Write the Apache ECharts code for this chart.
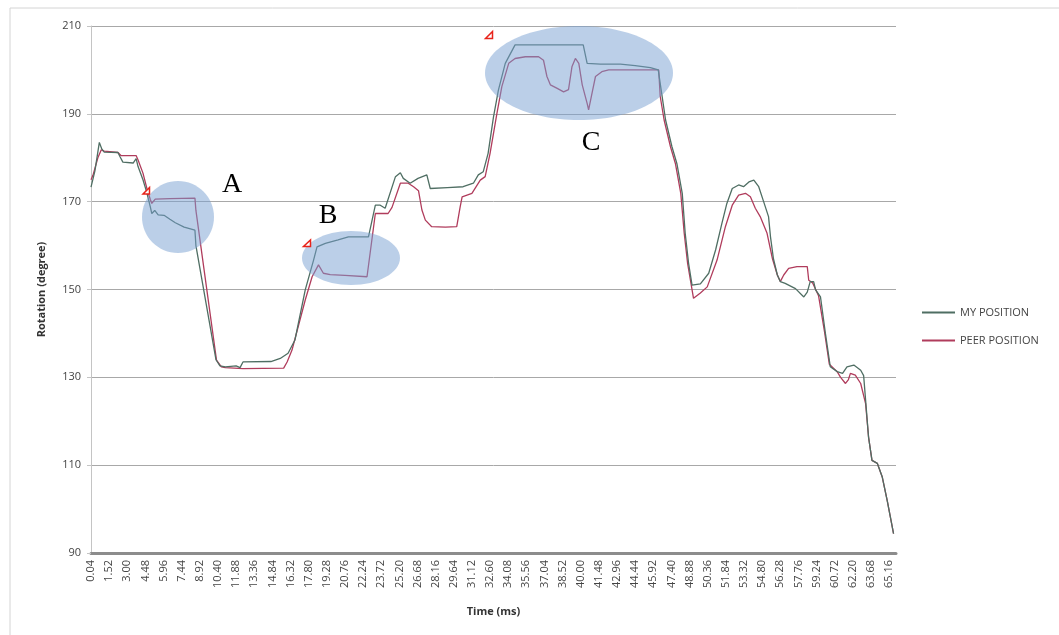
<!DOCTYPE html>
<html>
<head>
<meta charset="utf-8">
<script src="https://cdn.jsdelivr.net/npm/echarts@6/dist/echarts.min.js"></script>
<style>html,body{margin:0;padding:0;background:#fff}#c{width:1059px;height:635px}</style>
</head>
<body>
<div id="c"></div>
<script>
// time axis (ms): samples every 0.04 ms, labelled every 37th sample
const START = 0.04, STEP = 0.04, COUNT = 1643;
const categories = Array.from({length: COUNT}, (_, i) => (START + i * STEP).toFixed(2));

// [time ms, rotation degree]
const myPosition = [
[0.04,173.3],[0.37,177],[0.73,183.5],[0.94,182],[1.10,181.3],[2.24,181.2],[2.41,180.3],[2.65,179],
[3.47,178.8],[3.71,179.8],[3.88,178],[4.29,175],[4.61,172],[4.86,168.8],[4.98,167.3],[5.22,168],
[5.51,167],[6.00,166.9],[6.49,166],[6.90,165.2],[7.63,164.2],[8.51,163.5],[8.61,160],[10.24,134],
[10.57,132.6],[10.98,132.4],[11.88,132.6],[12.20,132.2],[12.45,133.5],[14.73,133.6],[15.47,134.3],
[16.12,135.5],[16.69,138.5],[17.51,149.9],[18.19,156.7],[18.46,159.7],[19.14,160.5],[20.20,161.3],
[21.02,162],[22.68,162],[23.22,169.2],[23.63,169.2],[24.04,168.5],[24.86,175.7],[25.27,176.6],
[25.51,175.3],[26.08,174.2],[26.73,175.3],[27.44,176.1],[27.71,173],[29.10,173.2],[30.41,173.4],
[31.22,174.2],[31.63,176.1],[32.04,176.8],[32.45,181],[32.86,189.3],[33.26,195.4],[33.84,201.5],
[34.65,205.7],[40.20,205.7],[40.51,201.5],[41.59,201.3],[43.22,201.3],[44.45,201],[45.67,200.5],
[46.33,200],[46.63,193.9],[46.90,188.6],[47.45,182.5],[47.85,178.7],[48.26,171.9],[48.53,162.8],
[48.80,155.9],[49.08,151],[49.76,151.3],[50.43,153.7],[50.98,159],[51.53,165.1],[51.93,169.6],
[52.34,173],[52.88,173.8],[53.26,173.4],[53.70,174.5],[54.11,174.9],[54.51,173.4],[54.92,170],
[55.33,166.6],[55.47,162],[55.71,157],[56.02,153.3],[56.28,151.8],[56.69,151.4],[57.51,150.2],
[58.19,148.3],[58.46,149.4],[58.73,151.8],[59.00,151.8],[59.14,149.9],[59.55,148.3],[59.96,140],
[60.37,132.4],[60.91,131.3],[61.35,130.9],[61.73,132.4],[62.27,132.8],[62.82,131.6],[63.09,130.4],
[63.23,124.8],[63.49,116.4],[63.77,111.1],[64.18,110.4],[64.59,107.3],[65.00,102],[65.53,94.4]
];

const peerPosition = [
[0.04,175],[0.20,176],[0.61,180],[0.86,181.8],[1.10,181.5],[2.24,181.2],[2.49,180.5],[3.71,180.5],
[3.88,179.5],[4.29,176.5],[4.61,173],[4.86,170.5],[5.02,169.6],[5.26,170.6],[6.49,170.7],[8.51,170.8],
[8.61,168],[10.27,133.9],[10.68,132.4],[10.98,132.2],[12.45,132],[15.74,132.1],[16.04,133.5],
[16.42,136.2],[17.51,147.6],[18.06,152.9],[18.60,155.6],[19.00,153.7],[19.55,153.4],[20.77,153.2],
[22.57,152.9],[23.22,167.3],[24.28,167.3],[24.61,168.7],[25.27,174.2],[25.92,174.2],[26.35,173.4],
[26.76,172.5],[27.04,168.1],[27.31,165.8],[27.85,164.3],[28.94,164.2],[29.89,164.3],[30.16,168.8],
[30.30,171.1],[31.12,171.9],[31.80,174.9],[32.20,175.7],[32.61,181],[33.16,190.1],[33.57,196.2],
[34.10,201.5],[34.65,202.6],[35.47,203],[36.55,203],[36.96,202.2],[37.24,198.5],[37.51,196.6],
[38.06,195.8],[38.60,195],[39.00,195.5],[39.28,200.7],[39.55,202.6],[39.82,201.5],[40.10,196.6],
[40.51,192.4],[40.64,190.9],[40.91,194.7],[41.18,198.5],[41.73,199.6],[42.27,200],[46.35,200],
[46.49,194],[46.78,188.6],[47.31,182.5],[47.71,178.7],[48.16,171.9],[48.45,162.8],[48.73,155.9],
[49.02,150.6],[49.21,148],[49.76,149.2],[50.30,150.6],[51.12,156.7],[51.80,164.3],[52.34,169.2],
[52.88,171.5],[53.43,171.9],[53.84,171.1],[54.24,168.5],[54.65,166.6],[55.20,162.8],[55.63,157],
[56.02,153.3],[56.28,151.8],[56.55,153.3],[56.96,154.8],[57.65,155.2],[58.46,155.2],[58.60,152.1],
[58.90,151.5],[59.39,148.6],[59.88,140.5],[60.29,133],[60.91,131.3],[61.18,130],[61.59,128.6],
[61.84,129.5],[62.00,130.9],[62.41,130.5],[62.82,128.6],[63.23,124],[63.49,116.4],[63.77,111.1],
[64.18,110.4],[64.59,107.3],[65.00,102],[65.53,94.4]
];

const seriesNames = ['MY POSITION', 'PEER POSITION'];
const yTicks = {min: 90, max: 210, interval: 20};

const toIndex = t => Math.round((t - START) / STEP);
const toSeries = arr => arr.map(p => [toIndex(p[0]), p[1]]);

const chart = echarts.init(document.getElementById('c'), null, {renderer: 'canvas'});
const FONT = 'Open Sans';
const ELLIPSE_FILL = 'rgba(120,160,210,0.5)';

const option = {
  animation: false,
  backgroundColor: '#fff',
  grid: {left: 91, right: 163, top: 26, bottom: 82},
  legend: {
    orient: 'vertical', left: 917, top: 302,
    icon: 'rect', itemWidth: 33, itemHeight: 2, itemGap: 17,
    textStyle: {fontFamily: FONT, fontSize: 11, color: '#444'},
    data: seriesNames
  },
  xAxis: {
    type: 'category', data: categories, boundaryGap: false,
    name: 'Time (ms)', nameLocation: 'middle', nameGap: 53,
    nameTextStyle: {fontFamily: FONT, fontSize: 11, fontWeight: 'bold', color: '#333'},
    axisLine: {lineStyle: {color: '#8c8c8c', width: 3}},
    axisTick: {show: false},
    axisLabel: {interval: 36, rotate: 90, fontFamily: FONT, fontSize: 11, color: '#444', margin: 7},
    splitLine: {show: false}
  },
  yAxis: {
    type: 'value', min: yTicks.min, max: yTicks.max, interval: yTicks.interval,
    name: 'Rotation (degree)', nameLocation: 'middle', nameGap: 44,
    nameTextStyle: {fontFamily: FONT, fontSize: 11, fontWeight: 'bold', color: '#333'},
    axisLine: {show: true, lineStyle: {color: '#c4c4c4', width: 1}},
    axisTick: {show: true, length: 4, lineStyle: {color: '#c4c4c4'}},
    axisLabel: {fontFamily: FONT, fontSize: 11, color: '#444', margin: 10},
    splitLine: {lineStyle: {color: '#a8a8a8', width: 1}}
  },
  series: [
    {name: seriesNames[0], type: 'line', data: toSeries(myPosition), showSymbol: false,
     color: '#4f6e63', lineStyle: {width: 1.3, color: '#4f6e63'}, z: 3},
    {name: seriesNames[1], type: 'line', data: toSeries(peerPosition), showSymbol: false,
     color: '#b03c5c', lineStyle: {width: 1.3, color: '#b03c5c'}, z: 2}
  ],
  graphic: [
    {type: 'rect', shape: {x: 10, y: 8, width: 1060, height: 640}, style: {fill: 'none', stroke: '#d4d4d4', lineWidth: 1}, z: 0, silent: true},
    {type: 'ellipse', shape: {cx: 178, cy: 217, rx: 36, ry: 36}, z: 100, style: {fill: ELLIPSE_FILL}},
    {type: 'ellipse', shape: {cx: 351, cy: 258, rx: 49, ry: 27}, z: 100, style: {fill: ELLIPSE_FILL}},
    {type: 'ellipse', shape: {cx: 579, cy: 73, rx: 94, ry: 47}, z: 100, style: {fill: ELLIPSE_FILL}},
    {type: 'text', x: 232, y: 185, z: 101, style: {text: 'A', font: '28px "Liberation Serif"', fill: '#000', align: 'center', verticalAlign: 'middle'}},
    {type: 'text', x: 328, y: 216, z: 101, style: {text: 'B', font: '28px "Liberation Serif"', fill: '#000', align: 'center', verticalAlign: 'middle'}},
    {type: 'text', x: 591, y: 143, z: 101, style: {text: 'C', font: '28px "Liberation Serif"', fill: '#000', align: 'center', verticalAlign: 'middle'}},
    {type: 'polygon', shape: {points: [[143, 194], [149.5, 194], [149.5, 187.5]]}, z: 102, style: {fill: '#fff', stroke: '#e8231a', lineWidth: 1.5}},
    {type: 'polygon', shape: {points: [[303.5, 246.5], [310.5, 246.5], [310.5, 240]]}, z: 102, style: {fill: '#fff', stroke: '#e8231a', lineWidth: 1.5}},
    {type: 'polygon', shape: {points: [[485.5, 38.5], [492.5, 38.5], [492.5, 31.5]]}, z: 102, style: {fill: '#fff', stroke: '#e8231a', lineWidth: 1.5}}
  ]
};
chart.setOption(option);
</script>
</body>
</html>
